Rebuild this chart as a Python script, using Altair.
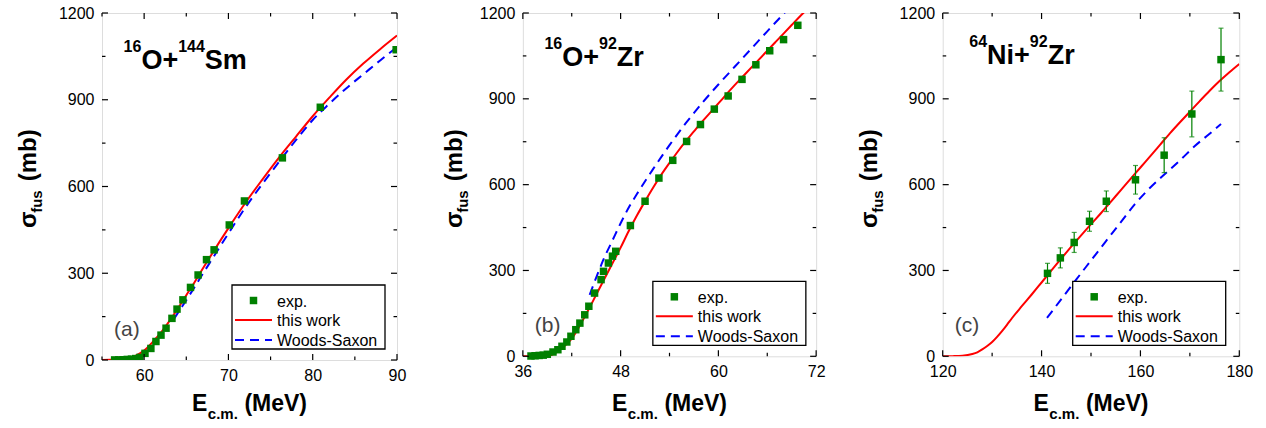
import altair as alt
import pandas as pd

FONT = "Liberation Sans"
GREEN = "#008000"
RED = "#ff0000"
BLUE = "#0000ff"

# ---------------- Panel (a): 16O + 144Sm ----------------
a_exp_E = [56.5, 57.0, 57.5, 58.0, 58.5, 59.0, 59.5, 60.1, 60.8, 61.4, 62.0, 62.6,
           63.3, 63.9, 64.6, 65.5, 66.4, 67.4, 68.3, 70.1, 71.9, 76.4, 80.9, 89.9]
a_exp_s = [0.3, 0.5, 1, 2, 3, 5, 9, 23, 40, 64, 86, 110,
           144, 176, 208, 251, 294, 347, 381, 467, 550, 699, 874, 1073]
a_this_E = [55, 56, 57, 58, 58.5, 59, 59.5, 60, 60.5, 61, 61.5, 62, 63, 64, 65, 66, 67,
            68, 70, 72, 74, 76, 78, 80, 82, 84, 86, 88, 90]
a_this_s = [0, 0.5, 2, 6, 10, 15, 23, 33, 46, 62, 78, 95, 135, 178, 224, 270, 318,
            365, 456, 543, 623, 700, 772, 843, 908, 970, 1025, 1075, 1122]
a_ws_E = [63.5, 64, 65, 66, 67, 68, 70, 72, 74, 76, 78, 80, 82, 84, 86, 88, 90]
a_ws_s = [140, 163, 207, 253, 300, 346, 438, 527, 608, 685, 760, 830, 887, 940, 988, 1036, 1082]

# ---------------- Panel (b): 16O + 92Zr ----------------
b_exp_E = [37.0, 37.5, 38.0, 38.5, 39.0, 39.7, 40.3, 40.8, 41.4, 41.9, 42.5, 43.0, 43.6,
           44.1, 44.8, 45.6, 45.9, 46.5, 47.0, 47.4, 49.2, 51.0, 52.7, 54.4, 56.1, 57.8,
           59.5, 61.2, 62.9, 64.6, 66.3, 68.0, 69.75]
b_exp_s = [1, 2, 3, 4, 7, 15, 23, 35, 50, 70, 93, 116, 145,
           175, 221, 268, 297, 326, 350, 367, 457, 542, 623, 685, 751, 810,
           864, 910, 968, 1019, 1068, 1107, 1157]
b_this_E = [36, 38, 39, 39.5, 40, 40.5, 41, 41.5, 42, 43, 44, 45, 46, 47, 48, 49, 50, 51,
            52, 53, 54, 55, 56, 57, 58, 59, 60, 61, 62, 63, 64, 65, 66, 67, 68, 69, 70, 71, 72]
b_this_s = [0, 0, 1, 4, 12, 22, 33, 46, 62, 108, 160, 215, 270, 325, 380, 438, 492, 542,
            590, 635, 676, 715, 752, 786, 820, 852, 884, 916, 948, 978, 1008, 1038, 1068,
            1098, 1128, 1158, 1188, 1216, 1245]
b_ws_E = [44.2, 45, 46, 47, 48, 49, 50, 51, 52, 53, 54, 56, 58, 60, 62, 64, 66, 68, 69]
b_ws_s = [215, 275, 345, 405, 465, 520, 567, 612, 655, 697, 738, 815, 885, 950, 1012,
          1074, 1136, 1197, 1228]

# ---------------- Panel (c): 64Ni + 92Zr ----------------
c_exp_E = [141.2, 143.8, 146.6, 149.7, 153.1, 159.0, 164.8, 170.4, 176.3]
c_exp_s = [290, 344, 398, 472, 542, 617, 703, 847, 1037]
c_exp_err = [35, 35, 35, 35, 36, 50, 61, 80, 110]
c_this_E = [120, 122, 124, 126, 127, 128, 129, 130, 131, 132, 133, 134, 136, 138, 140,
            142, 144, 146, 148, 150, 152, 154, 156, 158, 160, 162, 164, 166, 168, 170,
            172, 174, 176, 178, 180]
c_this_s = [0, 0.5, 2, 8, 14, 24, 36, 50, 68, 88, 110, 133, 175, 216, 258,
            300, 342, 383, 423, 462, 500, 540, 580, 620, 660, 700, 740, 780, 818, 855,
            892, 928, 962, 993, 1022]
c_ws_E = [141.1, 144, 147, 150, 153, 156, 158.8, 162, 165, 168, 171, 174, 176.3]
c_ws_s = [134, 200, 268, 335, 402, 468, 530, 590, 638, 685, 735, 778, 812]

# ---------------- axes / labels ----------------
a_x_major = [60, 70, 80, 90]
a_x_minor = [55, 65, 75, 85]
b_x_major = [36, 48, 60, 72]
b_x_minor = [42, 54, 66]
c_x_major = [120, 140, 160, 180]
c_x_minor = [130, 150, 170]
y_major = [0, 300, 600, 900, 1200]
y_minor = [150, 450, 750, 1050]

legend_labels = ["exp.", "this work", "Woods-Saxon"]
panel_tags = ["(a)", "(b)", "(c)"]

# Arial/Liberation Sans Bold advance widths (per 1000 em)
BOLD_W = {"0": 556, "1": 556, "2": 556, "3": 556, "4": 556, "5": 556, "6": 556,
          "7": 556, "8": 556, "9": 556, "O": 778, "+": 584, "S": 667, "m": 889,
          "N": 722, "i": 278, "Z": 611, "r": 389, "E": 667, "c": 556, ".": 278,
          " ": 278, "(": 333, "M": 833, "e": 556, "V": 667, ")": 333, "f": 333,
          "u": 611, "s": 556, "b": 611, "σ": 611}


def tw(s, size):
    return sum(BOLD_W.get(ch, 556) for ch in s) * size / 1000.0


def label_layer(text, x, y, size, bold=False, angle=0, color="black"):
    kw = dict(align="left", baseline="alphabetic", font=FONT, fontSize=size,
              fontWeight="bold" if bold else "normal", color=color)
    if angle:
        kw["angle"] = angle
    return alt.Chart(pd.DataFrame({"t": [text]})).mark_text(**kw).encode(
        text="t:N", x=alt.value(x), y=alt.value(y))


def rich(segs, x0, y0, angle=0):
    """segs: (text, font size, baseline shift, gap before)"""
    out = []
    pos = 0.0
    for txt, size, shift, gap in segs:
        pos += gap
        if angle == 0:
            out.append(label_layer(txt, x0 + pos, y0 - shift, size, bold=True))
        else:
            out.append(label_layer(txt, x0 - shift, y0 - pos, size, bold=True, angle=angle))
        pos += tw(txt, size)
    return out


def make_panel(W, H, xdom, xmaj, xmin_, exp_E, exp_s, this_E, this_s, ws_E, ws_s,
               title_segs, title_x, title_y, tag, ytitle_x, err=None, clip_pts=False):
    xs = alt.Scale(domain=xdom, nice=False, zero=False)
    ys = alt.Scale(domain=[0, 1200], nice=False, zero=False)
    x_axis = alt.Axis(values=xmaj, ticks=False, domain=False, grid=False,
                      labelFont=FONT, labelFontSize=16, labelColor="black",
                      labelPadding=7, labelFlush=False, labelOverlap=False,
                      title=None, format="d")
    y_axis = alt.Axis(values=y_major, ticks=False, domain=False, grid=False,
                      labelFont=FONT, labelFontSize=16, labelColor="black",
                      labelPadding=8, labelFlush=False, labelOverlap=False,
                      title=None, format="d")

    def X(f):
        return alt.X(f, scale=xs, axis=x_axis)

    def Y(f):
        return alt.Y(f, scale=ys, axis=y_axis)

    layers = []
    df_this = pd.DataFrame({"E": this_E, "s": this_s})
    df_ws = pd.DataFrame({"E": ws_E, "s": ws_s})
    layers.append(alt.Chart(df_this).mark_line(color=RED, strokeWidth=2, clip=True,
                                               interpolate="monotone").encode(
        x=X("E:Q"), y=Y("s:Q")))
    layers.append(alt.Chart(df_ws).mark_line(color=BLUE, strokeWidth=2, clip=True,
                                             strokeDash=[9, 6], interpolate="monotone").encode(
        x=X("E:Q"), y=Y("s:Q")))
    df_exp = pd.DataFrame({"E": exp_E, "s": exp_s})
    if err is not None:
        df_exp["lo"] = [v - e for v, e in zip(exp_s, err)]
        df_exp["hi"] = [v + e for v, e in zip(exp_s, err)]
        layers.append(alt.Chart(df_exp).mark_rule(color=GREEN, strokeWidth=1.2).encode(
            x=X("E:Q"), y=Y("lo:Q"), y2="hi:Q"))
        for col in ("lo", "hi"):
            layers.append(alt.Chart(df_exp).mark_tick(color=GREEN, orient="horizontal",
                                                      size=5, thickness=1.2).encode(
                x=X("E:Q"), y=Y(f"{col}:Q")))
    layers.append(alt.Chart(df_exp).mark_square(color=GREEN, size=56, opacity=1,
                                                clip=clip_pts).encode(
        x=X("E:Q"), y=Y("s:Q")))

    # inward ticks on all four sides
    for vals, ln in ((xmaj, 6), (xmin_, 3.5)):
        base = alt.Chart(pd.DataFrame({"v": vals})).mark_rule(color="black", strokeWidth=1.2)
        layers.append(base.encode(x=X("v:Q"), y=alt.value(H), y2=alt.value(H - ln)))
        layers.append(base.encode(x=X("v:Q"), y=alt.value(0), y2=alt.value(ln)))
    for vals, ln in ((y_major, 6), (y_minor, 3.5)):
        base = alt.Chart(pd.DataFrame({"v": vals})).mark_rule(color="black", strokeWidth=1.2)
        layers.append(base.encode(y=Y("v:Q"), x=alt.value(0), x2=alt.value(ln)))
        layers.append(base.encode(y=Y("v:Q"), x=alt.value(W), x2=alt.value(W - ln)))

    # legend
    one = pd.DataFrame({"a": [0]})
    top, bot = H - 75, H - 11
    rows = [H - 59.5, H - 40, H - 20]
    layers.append(alt.Chart(one).mark_rect(fill="white", stroke="black", strokeWidth=1.3).encode(
        x=alt.value(130), x2=alt.value(283), y=alt.value(top), y2=alt.value(bot)))
    layers.append(alt.Chart(one).mark_square(color=GREEN, size=56, opacity=1).encode(
        x=alt.value(151.5), y=alt.value(rows[0])))
    layers.append(alt.Chart(one).mark_rule(color=RED, strokeWidth=2).encode(
        x=alt.value(133), x2=alt.value(170), y=alt.value(rows[1])))
    layers.append(alt.Chart(one).mark_rule(color=BLUE, strokeWidth=2, strokeDash=[9, 6]).encode(
        x=alt.value(133), x2=alt.value(170), y=alt.value(rows[2])))
    for lab, r in zip(legend_labels, rows):
        layers.append(label_layer(lab, 175, r + 6, 16))

    # panel tag
    layers.append(label_layer(tag, 12, H - 24, 21, color="#444444"))
    # reaction title
    layers += rich(title_segs, title_x, title_y)
    # x-axis title
    xt = [("E", 23, 0, 0), ("c.m.", 15, -8, 0.5), ("(MeV)", 23, 0, 6.5)]
    wtot = sum(tw(t, s) + g for t, s, _, g in xt)
    layers += rich(xt, W / 2 - wtot / 2, 398)
    # y-axis title (rotated, reading upwards)
    yt = [("σ", 24, 0, 0), ("fus", 15, -6, 0.5), ("(mb)", 24, 0, 9)]
    layers += rich(yt, ytitle_x, 215, angle=270)

    return alt.layer(*layers).properties(width=W, height=H)


SUP, MAIN, RAISE = 16, 27, 16.5
pa = make_panel(295, 347, [55, 90], a_x_major, a_x_minor, a_exp_E, a_exp_s,
                a_this_E, a_this_s, a_ws_E, a_ws_s,
                [("16", SUP, RAISE, 0), ("O+", MAIN, 0, 0), ("144", SUP, RAISE, 0), ("Sm", MAIN, 0, 0)],
                21.6, 55.7, panel_tags[0], -66, clip_pts=True)
pb = make_panel(293.3, 343.3, [36, 72], b_x_major, b_x_minor, b_exp_E, b_exp_s,
                b_this_E, b_this_s, b_ws_E, b_ws_s,
                [("16", SUP, RAISE, 0), ("O+", MAIN, 0, 0), ("92", SUP, RAISE, 0), ("Zr", MAIN, 0, 0)],
                21.6, 52.7, panel_tags[1], -61)
pc = make_panel(296.6, 343.3, [120, 180], c_x_major, c_x_minor, c_exp_E, c_exp_s,
                c_this_E, c_this_s, c_ws_E, c_ws_s,
                [("64", SUP, RAISE, 0), ("Ni+", MAIN, 0, 0), ("92", SUP, RAISE, 0), ("Zr", MAIN, 0, 0)],
                26.6, 50.7, panel_tags[2], -66, err=c_exp_err)

chart = alt.hconcat(pa, pb, pc, spacing=125.85, bounds="flush").properties(
    padding={"left": 16, "top": 4, "right": 5, "bottom": 0}
).configure_view(stroke="black", strokeWidth=1.3).configure(font=FONT)

chart.save("out.html", embed_options={"renderer": "svg", "actions": False})
